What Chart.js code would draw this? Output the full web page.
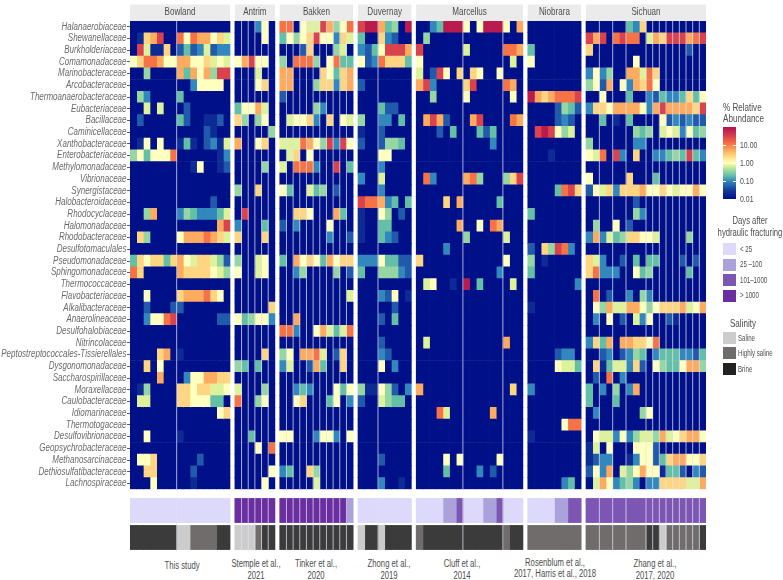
<!DOCTYPE html>
<html>
<head>
<meta charset="utf-8">
<script src="https://cdn.jsdelivr.net/npm/chart.js@4"></script>
<style>
  html, body { margin: 0; background: #fff; }
  #page { position: relative; width: 783px; height: 580px; overflow: hidden; font-family: "Liberation Sans", sans-serif; color: #4d4d4d; }
  canvas { position: absolute; left: 0; }
  .t { position: absolute; white-space: nowrap; line-height: 1; transform-origin: left center; }
  .c { transform-origin: center center; text-align: center; }
  .sw { position: absolute; left: 723px; width: 13px; height: 12px; }
</style>
</head>
<body>
<div id="page">
  <canvas id="heat" width="783" height="500" style="top:0"></canvas>
  <canvas id="strips" width="783" height="54" style="top:497px"></canvas>
</div>
<script>
const families = ["Halanaerobiaceae","Shewanellaceae","Burkholderiaceae","Comamonadaceae","Marinobacteraceae","Arcobacteraceae","Thermoanaerobacteraceae","Eubacteriaceae","Bacillaceae","Caminicellaceae","Xanthobacteraceae","Enterobacteriaceae","Methylomonadaceae","Vibrionaceae","Synergistaceae","Halobacteroidaceae","Rhodocyclaceae","Halomonadaceae","Rhodobacteraceae","Desulfotomaculales","Pseudomonadaceae","Sphingomonadaceae","Thermococcaceae","Flavobacteriaceae","Alkalibacteraceae","Anaerolineaceae","Desulfohalobiaceae","Nitrincolaceae","Peptostreptococcales-Tissierellales","Dysgonomonadaceae","Saccharospirillaceae","Moraxellaceae","Caulobacteraceae","Idiomarinaceae","Thermotogaceae","Desulfovibrionaceae","Geopsychrobacteraceae","Methanosarcinaceae","Dethiosulfatibacteraceae","Lachnospiraceae"];

// one hex digit per sample; see abundanceLevels
const abundanceLevels = [0.01, 0.02, 0.05, 0.1, 0.2, 0.35, 0.7, 1, 2.5, 5, 12, 30, 80];

const bowland = ["000000000000000","0189b00a7a99786","0b6118024236233","78aa97799778676","0050000949795bb","000000000377770","053000040000000","006060002000000","020000042001120","000000000002100","017070014102316","574777a00000013","000000000170012","000000000000000","000000000000000","000000000000200","005900035433346","00000000000009b","08500007999a986","000000000000000","487884897688652","a80000098888765","000000000000000","00700008999a870","002000220000000","00377ab00000022","000000000000000","000000000000000","000089010000000","008070000000000","000090003779988","015000088788667","066000088777440","000000000000078","000000000000000","007000010000000","000000000000000","077800000020000","008800000200000","000700000100000"];
const antrim = ["000370","000070","000000","79b770","000600","000780","000000","477960","850570","000005","900780","000000","000050","000000","500800","000000","0b0000","300040","800080","000000","500670","700670","000000","000000","000008","745773","000000","000000","000080","540400","000000","600050","a00570","000000","000000","004000","00070a","000000","000007","000070"];
const bakken = ["aa0766b957a","47578b77386","00028000560","50aaa507a44","99000087489","99000588389","20000000000","00000530000","06778308076","00000000000","666a975b3b7","06807000000","60aaa300b04","00000000000","74006450200","00000000000","00887000940","20300007000","00000003002","00000000000","40978749788","00350000502","00000000000","00000000006","00000000000","00900000000","aa30079646a","00000000000","57099a60280","36002940080","00000000000","00343000747","00780004703","00000000000","00000000000","77000377307","00000000000","00000000000","34008500000","00000600000"];
const duvernay = ["bcc9450c","40083200","3247bbb9","723a8884","00000000","20000000","00000000","00042200","50033040","10020000","20025540","00077000","00030000","30060000","00030000","baa93404","10075020","10044000","10043200","00000000","33374422","40055532","00000000","00032701","00000200","00020400","00000000","00020000","00032000","00070300","00000000","51175203","20065440","00000000","00000000","00000000","00000000","00020000","00000000","00030010"];
const marcellus = ["0034ccc707ccc709","0500000000000000","b000000600000aa9","7000000000000060","602b708087007000","9b300008b0000a90","0050000700000070","0000000000000000","09b920009b0000a9","0002040004240000","0000000000030000","0000000000000000","0000000000000000","0a300009a500058b","0000000000000000","0000809000004000","0000000000000000","00000090070a9000","0000000500000600","0000300000000000","8000000000000700","0000000000003000","0670010c04000060","0000000000000000","0000000000000000","0000000000000000","0000000000000000","0600000000000900","0000000000000000","0000000000000000","0000000000000000","9000000000000080","0000000000000000","000a600000090000","0000000000000000","0000000000000000","0000000000000000","0000707000007000","0000400003020000","0000000000000000"];
const niobrara = ["00000000","00000000","40000000","70000000","00000000","00000000","c989aaab","00002542","00002320","0bcb7560","00000000","00010000","00000000","00000000","00004ab8","00000000","40000000","00000000","00000000","2085ba30","50100000","40000000","00000003","00000000","10000000","00000000","00000000","00000000","00002330","00007664","00000000","30000000","00000000","00000000","000007aa","10000000","00000000","00000000","00000000","00000340"];
const sichuan = ["000000438000000000","b9b0abaa0698bbb9ab","800000000000000200","000000070000000000","373500996a80000000","572907398a70000000","007000400324334847","38879999739b99998b","004010400007232322","000000054506763745","500000033000000000","76a0b3080033454b43","000000000000000000","700000800040000000","276838889778767797","000000020000000000","000000053000000000","050070200000000000","393645887760000500","000000000000000000","863002040440002020","8a3330074500000400","000000000000000000","0a0200305300000000","075966997578889679","030702063700210000","000000000000000000","3849099887a0000000","002302354034443324","081466382075447995","020a03000000000000","403050390000000000","400040000000000000","030000005700000000","000000000000000000","076637356659678997","160700077720000000","123300137724899778","273906579771442032","069734530338888669"];

const basins = ["Bowland","Antrim","Bakken","Duvernay","Marcellus","Niobrara","Sichuan"];
const basinRows = [bowland, antrim, bakken, duvernay, marcellus, niobrara, sichuan];
// column where a new well starts inside each basin
const wellBreaks = [[7],[1,2,3,4,5],[1,2,3,4,5,6,7,8,9,10],[3],[7,13],[],[2,4,6,9,10,11,12,13,14,15,16,17]];

const daysClasses = ["< 25","25 –100","101–1000","> 1000"];
const daysColours = ["#dcd9fb","#aba2dc","#7d56b4","#6a2ea0"];
const daysByBasin = ["000000000000000","333333","33333333331","00000000","0000112000112000","00001122","222222222222222222"];
const salinityClasses = ["Saline","Highly saline","Brine"];
const salinityColours = ["#cccccc","#706c6c","#3b3b3b"];
const salinityLegend = ["#cccccc","#6f6b6b","#222222"];
const salinityByBasin = ["222222200111122","000122","22222222222","02202222","1222222222222122","11111111","111111111220111112"];

const citations = [["This study"],["Stemple et al.,","2021"],["Tinker et al.,","2020"],["Zhong et al.,","2019"],["Cluff et al.,","2014"],["Rosenblum et al.,","2017, Harris et al., 2018"],["Zhang et al.,","2017, 2020"]];
const citationX = [182, 255.7, 316, 388.7, 462, 555, 655];

// the reference type is squeezed sideways, no narrow font is installed
const squeeze = 0.77;

// colours against log10 position on the 0.01 .. 100 colourbar
const colourStops = [[0,"#001088"],[0.12,"#14399c"],[0.25,"#3288bd"],[0.33,"#66c2a5"],[0.41,"#abdda4"],[0.47,"#e6f598"],[0.5,"#ffffbf"],[0.58,"#fee08b"],[0.67,"#fdae61"],[0.78,"#f46d43"],[0.88,"#d53e4f"],[1,"#b2124f"]];

function hexToRgb(h) {
    return [1, 3, 5].map(i => parseInt(h.slice(i, i + 2), 16));
}

function abundanceColour(v) {
    const t = Math.min(1, Math.max(0, (Math.log10(v) + 2) / 4));
    for (let i = 1; i < colourStops.length; i++) {
        if (t <= colourStops[i][0]) {
            const [t0, c0] = colourStops[i - 1];
            const [t1, c1] = colourStops[i];
            const f = (t - t0) / (t1 - t0);
            const a = hexToRgb(c0), b = hexToRgb(c1);
            return `rgb(${a.map((x, k) => Math.round(x + (b[k] - x) * f)).join(",")})`;
        }
    }
    return colourStops[colourStops.length - 1][1];
}

// x position of every basin, in column units, with a gap between basins
const basinGap = 0.735;
const basinStart = [];
let xEnd = 0;
basinRows.forEach(rows => {
    basinStart.push(xEnd);
    xEnd += rows[0].length + basinGap;
});
xEnd -= basinGap;

const heatDatasets = [];
basinRows.forEach((rows, b) => {
    for (let col = 0; col < rows[0].length; col++) {
        const x0 = basinStart[b] + col;
        heatDatasets.push({
            data: families.map(() => [x0, x0 + 1]),
            backgroundColor: rows.map(r => abundanceColour(abundanceLevels[parseInt(r[col], 16)]))
        });
    }
});

const stripLabels = ["Days after hydraulic fracturing", "Salinity"];
const stripDatasets = [];
basinRows.forEach((rows, b) => {
    for (let col = 0; col < rows[0].length; col++) {
        const x0 = basinStart[b] + col;
        stripDatasets.push({
            data: [[x0, x0 + 1], [x0, x0 + 1]],
            backgroundColor: [daysColours[+daysByBasin[b][col]], salinityColours[+salinityByBasin[b][col]]]
        });
    }
});

function squeezedText(ctx, str, x, y, sx) {
    ctx.save();
    ctx.translate(x, y);
    ctx.scale(sx, 1);
    ctx.fillText(str, 0, 0);
    ctx.restore();
}

// thin pale lines between wells
const wellLines = {
    id: "wellLines",
    afterDatasetsDraw(chart) {
        const { ctx, scales: { x }, chartArea: a } = chart;
        ctx.save();
        ctx.lineWidth = 1;
        ctx.strokeStyle = "rgba(225,225,240,0.75)";
        wellBreaks.forEach((list, b) => list.forEach(col => {
            const px = x.getPixelForValue(basinStart[b] + col);
            ctx.beginPath();
            ctx.moveTo(px, a.top);
            ctx.lineTo(px, a.bottom);
            ctx.stroke();
        }));
        ctx.restore();
    }
};

// grey strip with the basin name over each panel, family names beside the rows
const heatText = {
    id: "heatText",
    afterDraw(chart) {
        const { ctx, scales: { x, y } } = chart;
        ctx.save();
        ctx.font = '10.5px "Liberation Sans", sans-serif';
        ctx.textAlign = "center";
        ctx.textBaseline = "middle";
        basins.forEach((name, b) => {
            const l = x.getPixelForValue(basinStart[b]);
            const r = x.getPixelForValue(basinStart[b] + basinRows[b][0].length);
            ctx.fillStyle = "#ebebeb";
            ctx.fillRect(l, 4.5, r - l, 16.5);
            ctx.fillStyle = "#4d4d4d";
            squeezedText(ctx, name, (l + r) / 2, 12.5, squeeze);
        });
        ctx.font = 'italic 10px "Liberation Sans", sans-serif';
        ctx.textAlign = "right";
        ctx.fillStyle = "#6a6a6a";
        families.forEach((name, i) => {
            squeezedText(ctx, name, 126.5, y.getPixelForTick(i), 0.8);
        });
        ctx.restore();
    }
};

new Chart(document.getElementById("heat"), {
    type: "bar",
    data: { labels: families, datasets: heatDatasets },
    plugins: [wellLines, heatText],
    options: {
        indexAxis: "y",
        responsive: false,
        animation: false,
        datasets: { bar: { barPercentage: 1, categoryPercentage: 1, grouped: false } },
        layout: { padding: { left: 0, right: 77, top: 21, bottom: 10.7 } },
        plugins: { legend: { display: false }, tooltip: { enabled: false } },
        scales: {
            x: { type: "linear", display: false, min: 0, max: xEnd },
            y: {
                afterFit: s => { s.width = 130; },
                border: { display: false },
                grid: { offset: false, drawOnChartArea: false, tickLength: 3, color: "#5a5a5a" },
                ticks: { display: false, autoSkip: false }
            }
        }
    }
});

new Chart(document.getElementById("strips"), {
    type: "bar",
    data: { labels: stripLabels, datasets: stripDatasets },
    plugins: [wellLines],
    options: {
        indexAxis: "y",
        responsive: false,
        animation: false,
        datasets: { bar: { barPercentage: 1, categoryPercentage: 0.89, grouped: false, inflateAmount: 0.4 } },
        layout: { padding: { left: 130, right: 77, top: 0, bottom: 0 } },
        plugins: { legend: { display: false }, tooltip: { enabled: false } },
        scales: {
            x: { type: "linear", display: false, min: 0, max: xEnd },
            y: { display: false }
        }
    }
});

// citations and legends are plain html
const page = document.getElementById("page");

function addText(str, x, y, size, centred, sx) {
    const d = document.createElement("div");
    d.className = "t" + (centred ? " c" : "");
    d.textContent = str;
    d.style.left = x + "px";
    d.style.top = (y - size / 2) + "px";
    d.style.fontSize = size + "px";
    d.style.transform = (centred ? "translateX(-50%) " : "") + `scaleX(${sx || squeeze})`;
    page.appendChild(d);
}

function addSwatch(colour, y, h) {
    const d = document.createElement("div");
    d.className = "sw";
    d.style.top = y + "px";
    d.style.height = h + "px";
    d.style.background = colour;
    page.appendChild(d);
    return d;
}

citations.forEach((lines, i) => {
    if (lines.length === 1) addText(lines[0], citationX[i], 565.5, 10, true);
    else {
        const y0 = i === 5 ? 562.5 : 564;
        lines.forEach((s, k) => addText(s, citationX[i], y0 + k * 11.5, 10, true));
    }
});

addText("% Relative", 723, 107.5, 10.5, false);
addText("Abundance", 723, 118.5, 10.5, false);
const bar = addSwatch("", 126.7, 72.6);
bar.style.background = "linear-gradient(to top," + colourStops.map(s => `${s[1]} ${s[0] * 100}%`).join(",") + ")";

const barTicks = [["10.00", 145], ["1.00", 163.3], ["0.10", 181.5], ["0.01", 199]];
barTicks.forEach(([s, y]) => {
    addText(s, 740, y, 9, false);
    [723, 733].forEach(x => {
        const m = document.createElement("div");
        m.style.cssText = `position:absolute;left:${x}px;top:${y - 0.5}px;width:3px;height:1px;background:#fff`;
        page.appendChild(m);
    });
});

addText("Days after", 749.5, 220, 10.5, true, 0.73);
addText("hydraulic fracturing", 749.5, 232, 10.5, true, 0.73);
const daysY = [243, 258.5, 274, 289.5];
daysClasses.forEach((s, i) => {
    addSwatch(daysColours[i], daysY[i], 12);
    addText(s, 740, daysY[i] + 6, 8.5, false, 0.72);
});

addText("Salinity", 743, 323, 10.5, true);
const salinityY = [332, 347, 363];
salinityClasses.forEach((s, i) => {
    addSwatch(salinityLegend[i], salinityY[i], 12);
    addText(s, 738, salinityY[i] + 6, 8.5, false, 0.72);
});
</script>
</body>
</html>
